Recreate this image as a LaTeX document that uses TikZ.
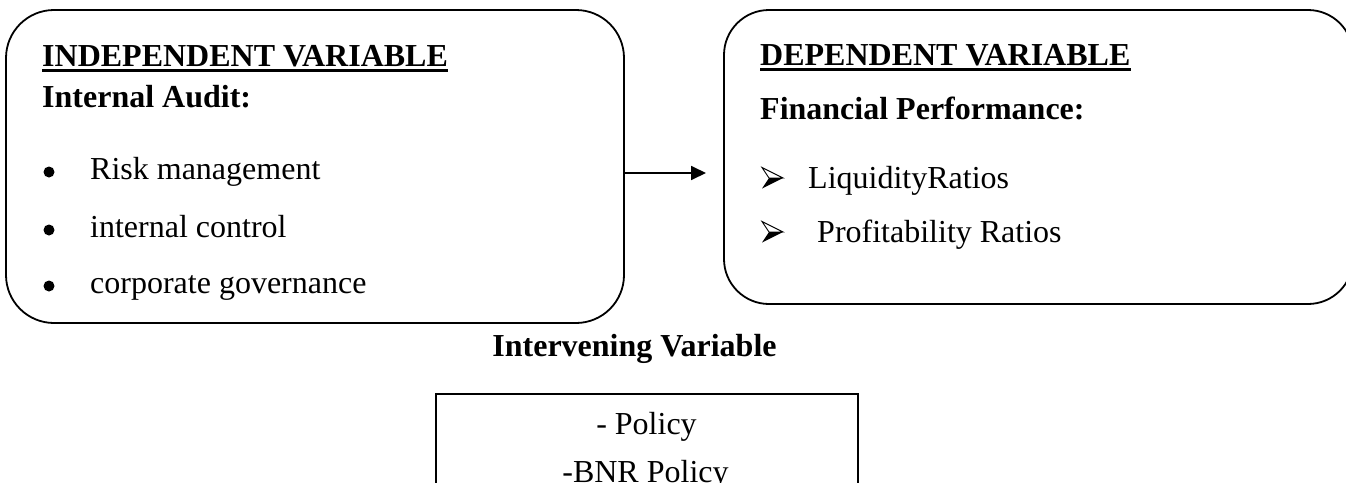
\documentclass[tikz,border=0pt]{standalone}
\usepackage{fontspec}
\setmainfont{Liberation Serif}
\usetikzlibrary{arrows.meta}
\newcommand\arrbul[2]{%
  \filldraw[fill=white, draw=black, line width=0.9pt, line join=miter] (#1+21,#2) -- (#1,#2-10.5) -- (#1+7,#2) -- cycle;
  \fill[black] (#1+21,#2) -- (#1+7,#2) -- (#1,#2+10.5) -- cycle;}
\begin{document}
\begin{tikzpicture}[x=1pt,y=-1pt,
  box/.style={draw, line width=1.8pt, inner sep=0pt, outer sep=0pt, anchor=north west},
  txt/.style={inner sep=0pt, anchor=base west, font=\fontsize{32}{38}\selectfont},
  head/.style={txt, font=\fontsize{32}{38}\selectfont\bfseries},
  dot/.style={circle, fill=black, inner sep=0pt, minimum size=11pt},
  ul/.style={line width=2.6pt},
  conn/.style={line width=1.8pt, -{Triangle[length=15pt,width=14pt]}}]
\useasboundingbox (0,0) rectangle (1346,482);
% boxes
\node[box, rounded corners=48pt, minimum width=618pt, minimum height=313pt] (indep) at (6,10) {};
\node[box, rounded corners=45pt, minimum width=629pt, minimum height=294pt] (dep) at (724,10) {};
\node[box, minimum width=422pt, minimum height=130pt] (interv) at (436,394) {};
% independent variable text
\node[head] (indT) at (42,66) {INDEPENDENT VARIABLE};
\draw[ul] ([yshift=-4.5pt]indT.base west) -- ([yshift=-4.5pt]indT.base east);
\node[head] (indA) at (42,107) {Internal Audit:};
\node[dot] (b1) at (49,172) {};
\node[txt] (i1) at (90,179) {Risk management};
\node[dot] (b2) at (49,230) {};
\node[txt] (i2) at (90,237) {internal control};
\node[dot] (b3) at (49,286) {};
\node[txt] (i3) at (90,293) {corporate governance};
% dependent variable text
\node[head] (depT) at (760,65) {DEPENDENT VARIABLE};
\draw[ul] ([yshift=-4.5pt]depT.base west) -- ([yshift=-4.5pt]depT.base east);
\node[head] (depF) at (760,119) {Financial Performance:};
\arrbul{762}{178}
\node[txt] (d1) at (808,188) {LiquidityRatios};
\arrbul{762}{232}
\node[txt] (d2) at (817,242) {Profitability Ratios};
% intervening
\node[head, anchor=base] (ivT) at (634.5,356) {Intervening Variable};
\node[txt, anchor=base] (p1) at (646.5,434) {- Policy};
\node[txt, anchor=base] (p2) at (645.5,482) {-BNR Policy};
% connector
\coordinate (tip) at (706,173);
\draw[conn] (indep.east |- tip) -- (tip);
\end{tikzpicture}
\end{document}
